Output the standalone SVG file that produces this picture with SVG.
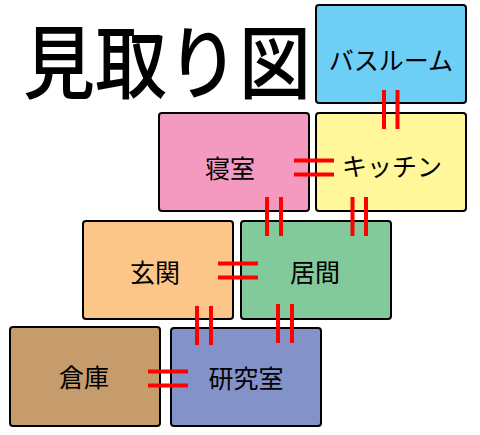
<svg xmlns="http://www.w3.org/2000/svg" width="480" height="435" viewBox="0 0 480 435">
<style>
.room{stroke:#000;stroke-width:2}
.lbl{font-family:"Noto Sans CJK JP","Noto Sans",sans-serif;font-size:25px;fill:#000;text-anchor:middle;dominant-baseline:central}
.title{font-family:"Noto Sans CJK JP","Noto Sans",sans-serif;font-size:72px;font-weight:500;fill:#000}
.door{stroke:#ff0000;stroke-width:4;fill:none}
</style>
<rect width="480" height="435" fill="#fff"/>
<g transform="translate(0,92) scale(1,1.1)"><text class="title" x="23" y="0">見取り図</text></g>
<g id="bath"><rect class="room" x="316" y="5" width="150" height="98" rx="3" fill="#6dcff6"/><text class="lbl" x="391" y="59">バスルーム</text></g>
<g id="kitchen"><rect class="room" x="316" y="113" width="150" height="98" rx="3" fill="#fff799"/><text class="lbl" x="392" y="165">キッチン</text></g>
<g id="bedroom"><rect class="room" x="159" y="113" width="150" height="98" rx="3" fill="#f49ac1"/><text class="lbl" x="230" y="167">寝室</text></g>
<g id="living"><rect class="room" x="241" y="221" width="150" height="98" rx="3" fill="#82ca9c"/><text class="lbl" x="315" y="271">居間</text></g>
<g id="entrance"><rect class="room" x="83" y="221" width="150" height="98" rx="3" fill="#fdc689"/><text class="lbl" x="155" y="271">玄関</text></g>
<g id="storage"><rect class="room" x="10" y="327" width="150" height="99" rx="3" fill="#c69c6d"/><text class="lbl" x="84" y="376">倉庫</text></g>
<g id="study"><rect class="room" x="171" y="328" width="150" height="98" rx="3" fill="#8393ca"/><text class="lbl" x="246" y="377">研究室</text></g>
<g id="connectors" class="door">
<path d="M384 90V129M397.5 90V129"/>
<path d="M294 160.5H334M294 174.5H334"/>
<path d="M267 197V236M281 197V236"/>
<path d="M352.5 197V236M366 197V236"/>
<path d="M218 263.5H258M218 277.5H258"/>
<path d="M197 306V345M211 306V345"/>
<path d="M278 304V343M292 304V343"/>
<path d="M148 371.5H188M148 385.5H188"/>
</g>
</svg>
